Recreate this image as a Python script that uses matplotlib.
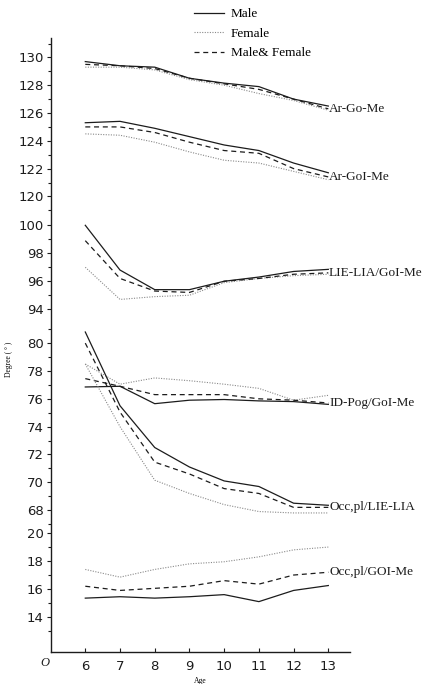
import matplotlib
matplotlib.use("Agg")
import matplotlib.pyplot as plt
import numpy as np

# Ages on the x axis
ages = [6, 7, 8, 9, 10, 11, 12, 13]

# Ar-Go-Me
argome_male = [129.7, 129.4, 129.3, 128.5, 128.15, 127.9, 127.0, 126.5]
argome_female = [129.3, 129.3, 129.1, 128.4, 128.0, 127.4, 126.9, 126.2]
argome_both = [129.5, 129.4, 129.2, 128.5, 128.1, 127.7, 127.0, 126.3]

# Ar-GoI-Me
argoime_male = [125.3, 125.4, 124.9, 124.3, 123.7, 123.3, 122.4, 121.7]
argoime_female = [124.5, 124.4, 123.9, 123.2, 122.6, 122.4, 121.8, 121.2]
argoime_both = [125.0, 125.0, 124.6, 123.9, 123.3, 123.1, 122.0, 121.4]

# LIE-LIA/GoI-Me
lie_male = [100.0, 96.8, 95.4, 95.4, 96.0, 96.3, 96.7, 96.85]
lie_female = [97.0, 94.7, 94.9, 95.0, 95.9, 96.2, 96.4, 96.5]
lie_both = [98.9, 96.2, 95.3, 95.2, 96.0, 96.2, 96.5, 96.6]

# ID-Pog/GoI-Me
idpog_male = [76.85, 76.9, 75.65, 75.9, 75.95, 75.85, 75.8, 75.6]
idpog_female = [78.5, 77.05, 77.5, 77.3, 77.05, 76.75, 75.9, 76.25]
idpog_both = [77.45, 76.9, 76.3, 76.3, 76.3, 76.0, 75.9, 75.7]

# Occ.pl/LIE-LIA
occlie_male = [80.8, 75.5, 72.5, 71.1, 70.1, 69.7, 68.5, 68.35]
occlie_female = [78.5, 74.0, 70.15, 69.2, 68.4, 67.9, 67.8, 67.8]
occlie_both = [80.0, 75.05, 71.45, 70.6, 69.55, 69.2, 68.2, 68.2]

# Occ.pl/GOI-Me
occgoi_male = [15.35, 15.45, 15.35, 15.45, 15.6, 15.1, 15.9, 16.25]
occgoi_female = [17.4, 16.85, 17.4, 17.8, 17.95, 18.3, 18.8, 19.0]
occgoi_both = [16.2, 15.9, 16.05, 16.2, 16.6, 16.35, 17.0, 17.2]

measures = [
    ("Ar-Go-Me", argome_male, argome_female, argome_both),
    ("Ar-GoI-Me", argoime_male, argoime_female, argoime_both),
    ("LIE-LIA/GoI-Me", lie_male, lie_female, lie_both),
    ("ID-Pog/GoI-Me", idpog_male, idpog_female, idpog_both),
    ("Occ,pl/LIE-LIA", occlie_male, occlie_female, occlie_both),
    ("Occ,pl/GOI-Me", occgoi_male, occgoi_female, occgoi_both),
]

major_ticks = [14, 16, 18, 20, 68, 70, 72, 74, 76, 78, 80, 94, 96, 98, 100,
               120, 122, 124, 126, 128, 130]
minor_ticks = [13, 15, 17, 19, 67, 69, 71, 73, 75, 77, 79, 81, 95, 97, 99,
               119, 121, 123, 125, 127, 129, 131]

# broken y axis: piecewise linear scale
knot_val = np.array([11.5, 20, 67, 81, 94, 100, 119, 131.5])
knot_pos = np.array([0, 119, 128, 323, 343, 427, 442, 615.85])


def fwd(v):
    return np.interp(v, knot_val, knot_pos)


def inv(p):
    return np.interp(p, knot_pos, knot_val)


serif = "Liberation Serif"
ink = "#1c1c1c"

fig = plt.figure(figsize=(4.25, 6.84), dpi=100)
ax = fig.add_axes([0.119, 0.0468, 0.705, 0.8977])
ax.set_yscale("function", functions=(fwd, inv))

for name, male, female, both in measures:
    ax.plot(ages, male, color=ink, lw=0.9, ls="-")
    ax.plot(ages, female, color="#8a8a8a", lw=0.8, ls=(0, (1, 1.3)))
    ax.plot(ages, both, color=ink, lw=0.9, ls=(0, (4, 3)))
    ax.text(13.02, both[-1], name, family=serif, fontsize=9.5,
            ha="left", va="center", color=ink)

ax.set_xlim(5.0, 13.63)
ax.set_ylim(11.5, 131.4)
ax.set_xticks(ages)
ax.set_yticks(major_ticks)
ax.set_yticks(minor_ticks, minor=True)
ax.set_yticklabels([str(t) for t in major_ticks])

for s in ["top", "right"]:
    ax.spines[s].set_visible(False)
for s in ["left", "bottom"]:
    ax.spines[s].set_linewidth(1.0)
    ax.spines[s].set_color(ink)

ax.tick_params(axis="y", which="major", direction="out", length=3, width=0.8,
               labelsize=9.5, pad=2, colors=ink)
ax.tick_params(axis="y", which="minor", direction="out", length=2, width=0.8,
               colors=ink)
ax.tick_params(axis="x", which="major", direction="in", length=3, width=0.8,
               labelsize=9.5, pad=6, colors=ink)

ax.set_ylabel("Degree ( ° )", fontsize=5.5, family=serif)
ax.yaxis.set_label_coords(-0.125, 0.476)
ax.set_xlabel("Age", fontsize=5.5, family=serif, labelpad=3)
fig.text(0.106, 0.031, "O", fontsize=9, style="italic", family=serif,
         ha="center", va="center", color=ink)

# legend
h1, = ax.plot([], [], color=ink, lw=0.9, ls="-")
h2, = ax.plot([], [], color="#8a8a8a", lw=0.8, ls=(0, (1, 1.3)))
h3, = ax.plot([], [], color=ink, lw=0.9, ls=(0, (4, 3)))
fig.legend([h1, h2, h3], ["Male", "Female", "Male& Female"],
           loc="upper left", bbox_to_anchor=(0.45, 0.992), frameon=False,
           prop={"family": serif, "size": 9.5}, handlelength=2.3,
           handletextpad=0.5, labelspacing=0.55, borderpad=0.2,
           borderaxespad=0)

fig.savefig("out.png", dpi=100)
